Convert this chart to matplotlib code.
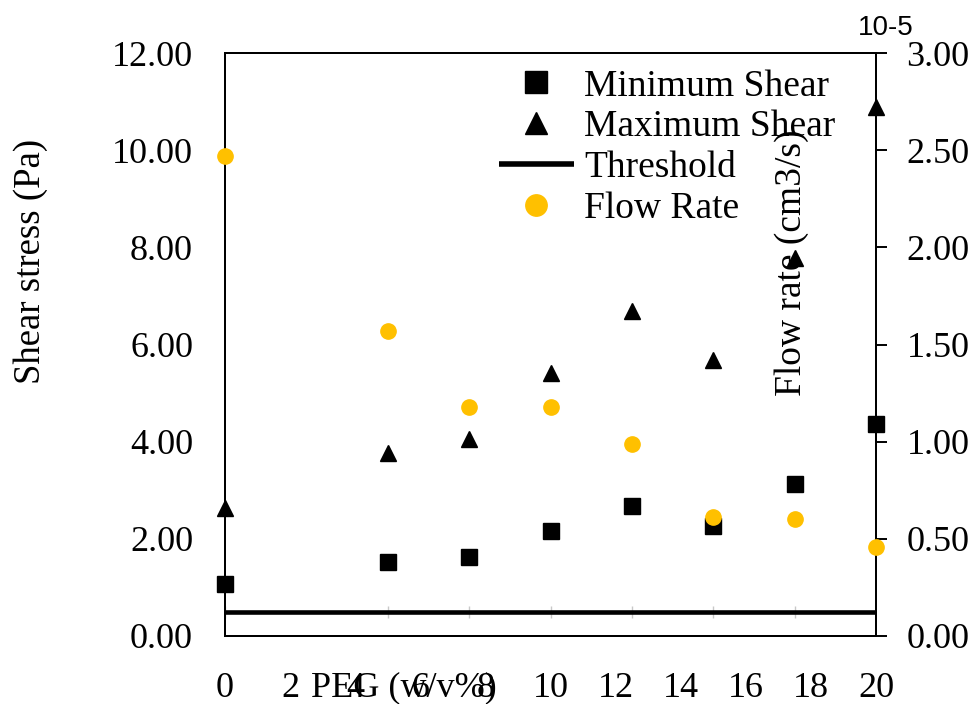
import matplotlib
matplotlib.use('Agg')
import matplotlib.pyplot as plt
from matplotlib.ticker import FormatStrFormatter

# PEG concentration (w/v%)
peg = [0, 5, 7.5, 10, 12.5, 15, 17.5, 20]
# shear stress (Pa)
min_shear = [1.07, 1.52, 1.63, 2.17, 2.67, 2.27, 3.13, 4.36]
max_shear = [2.63, 3.77, 4.06, 5.42, 6.69, 5.68, 7.78, 10.88]
threshold = [0.50] * len(peg)
# flow rate (x 10^-5 cm3/s)
flow_rate = [2.47, 1.57, 1.18, 1.18, 0.99, 0.61, 0.60, 0.46]

left_ticks = [0, 2, 4, 6, 8, 10, 12]
right_ticks = [0, 0.5, 1.0, 1.5, 2.0, 2.5, 3.0]
x_ticks = [0, 2, 4, 6, 8, 10, 12, 14, 16, 18, 20]

plt.rcParams['font.family'] = ['Liberation Serif', 'DejaVu Serif']
gold = '#FFC000'
fs = 26

fig = plt.figure(figsize=(9.75, 7.04), dpi=100)
ax = fig.add_axes([0.2308, 0.0966, 0.6677, 0.8281])

# faint grey ticks under the threshold line
ax.plot(peg, threshold, ls='none', marker='|', ms=9, mec='#c8c8c8', mew=1, zorder=1)
thr, = ax.plot(peg, threshold, color='black', lw=3.3, solid_capstyle='butt', zorder=2)
sq, = ax.plot(peg, min_shear, ls='none', marker='s', ms=11, color='black', clip_on=False, zorder=3)
tri, = ax.plot(peg, max_shear, ls='none', marker='^', ms=11, color='black', clip_on=False, zorder=3)

ax.set_xlim(0, 20)
ax.set_ylim(0, 12)
ax.set_xticks(x_ticks)
ax.set_yticks(left_ticks)
ax.yaxis.set_major_formatter(FormatStrFormatter('%.2f'))
ax.tick_params(axis='x', length=0, pad=26, labelsize=fs)
ax.tick_params(axis='y', length=0, pad=23, labelsize=fs)
for s in ax.spines.values():
    s.set_linewidth(1.4)

ax.set_xlabel('PEG (w/v%)', fontsize=fs, va='center')
ax.xaxis.set_label_coords(0.275, -0.089)
ax.set_ylabel('Shear stress (Pa)', fontsize=26.5, va='center')
ax.yaxis.set_label_coords(-0.298, 0.643)

ax2 = ax.twinx()
circ, = ax2.plot(peg, flow_rate, ls='none', marker='o', ms=11, color=gold, clip_on=False, zorder=3)
ax2.set_ylim(0, 3)
ax2.set_yticks(right_ticks)
ax2.yaxis.set_major_formatter(FormatStrFormatter('%.2f'))
ax2.tick_params(axis='y', direction='out', length=8, width=1.4, pad=14, labelsize=fs)
for s in ax2.spines.values():
    s.set_linewidth(1.4)
ax2.set_ylabel('Flow rate (cm3/s)', fontsize=27, va='center')
ax2.yaxis.set_label_coords(0.871, 0.640)

fig.text(0.908, 0.960, '10-5', family='Liberation Sans', fontsize=20, ha='center', va='center')

leg = ax2.legend([sq, tri, thr, circ],
                 ['Minimum Shear', 'Maximum Shear', 'Threshold', 'Flow Rate'],
                 loc='upper left', bbox_to_anchor=(0.386, 1.011), frameon=False,
                 fontsize=27, markerscale=1.4, handlelength=2.0, handletextpad=0.28,
                 labelspacing=0.17, borderpad=0.1)
leg.get_lines()[2].set_linewidth(4)

fig.savefig('out.png', dpi=100)
